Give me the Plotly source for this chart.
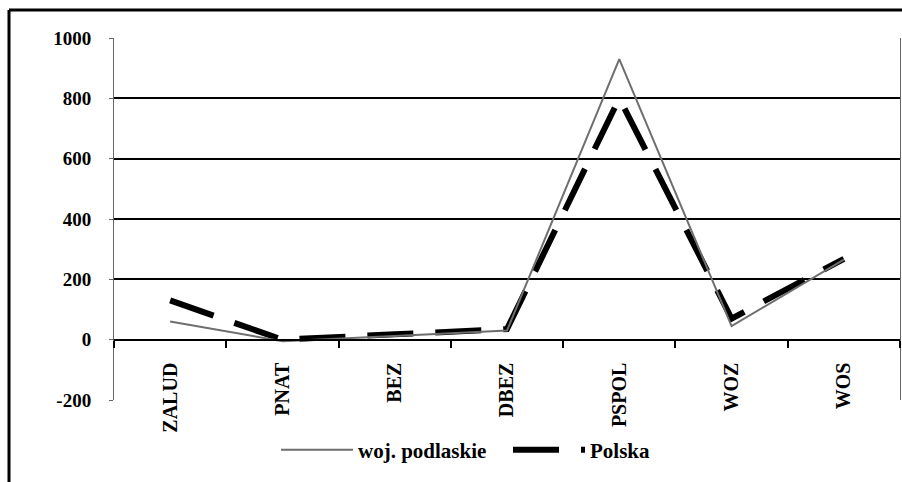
import plotly.graph_objects as go

categories = ["ZALUD", "PNAT", "BEZ", "DBEZ", "PSPOL", "WOZ", "WOS"]
podlaskie = [60, -5, 12, 30, 930, 45, 265]
polska = [130, 0, 18, 35, 800, 70, 268]
y_ticks = [-200, 0, 200, 400, 600, 800, 1000]
y_tick_text = ["-200", "0", "200", "400", "600", "800", "1000"]

W, H = 902, 482
L, R, T, B = 114, 2, 38, 82
pw, ph = W - L - R, H - T - B

def px_x(x):
    return (x - L) / pw

def px_y(y):
    return (H - B - y) / ph

FAM = "Liberation Serif"
yfont = dict(family=FAM, size=19, color="black", weight="bold")
xfont = dict(family=FAM, size=20, color="black", weight="bold")
lfont = dict(family=FAM, size=21, color="black", weight="bold")

fig = go.Figure()
fig.add_trace(go.Scatter(
    x=categories, y=polska, name="Polska", mode="lines",
    line=dict(color="black", width=6, dash="46px,22px"),
    legendrank=2,
))
fig.add_trace(go.Scatter(
    x=categories, y=podlaskie, name="woj. podlaskie", mode="lines",
    line=dict(color="#6e6e6e", width=2),
    legendrank=1,
))

fig.update_layout(
    width=W, height=H,
    margin=dict(l=L, r=R, t=T, b=B, autoexpand=False),
    paper_bgcolor="white", plot_bgcolor="white",
    font=dict(family=FAM, size=19, color="black"),
    showlegend=True,
    legend=dict(orientation="h", x=px_x(276), xanchor="left",
                y=px_y(450), yanchor="middle",
                font=lfont, itemwidth=72, entrywidth=145,
                bgcolor="rgba(0,0,0,0)"),
    xaxis=dict(
        type="category", range=[-0.5, 6.5],
        anchor="free", position=200 / 1200,
        showline=True, linecolor="black", linewidth=2,
        ticks="outside", ticklen=7, tickwidth=2, tickcolor="black",
        tickson="boundaries", tickangle=-90,
        ticklabelstandoff=14, automargin=False,
        tickfont=xfont,
        showgrid=False, zeroline=False,
    ),
    yaxis=dict(
        range=[-200, 1000], tickvals=y_ticks, ticktext=y_tick_text,
        showgrid=True, gridcolor="black", gridwidth=2,
        zeroline=True, zerolinecolor="black", zerolinewidth=2,
        showline=True, linecolor="#666", linewidth=1, mirror=True,
        ticks="outside", ticklen=4, tickcolor="#666",
        tickfont=yfont, automargin=False,
        ticklabelstandoff=14,
    ),
    shapes=[
        dict(type="line", xref="paper", yref="paper",
             x0=px_x(9), x1=px_x(905), y0=px_y(10), y1=px_y(10),
             line=dict(color="black", width=3)),
        dict(type="line", xref="paper", yref="paper",
             x0=px_x(9), x1=px_x(9), y0=px_y(10), y1=px_y(485),
             line=dict(color="black", width=3)),
    ],
)

fig.write_html(
    "out.html",
    config={"displayModeBar": False},
    post_script="document.body.style.margin='0px';document.body.style.overflow='hidden';",
)
